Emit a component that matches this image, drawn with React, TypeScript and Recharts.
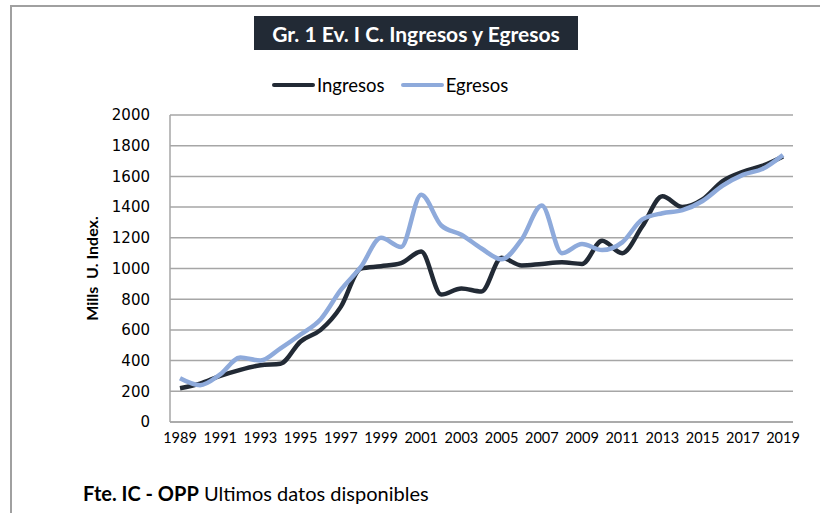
import { CartesianGrid, Line, LineChart, XAxis, YAxis } from "recharts";

const years = [
  "1989", "1990", "1991", "1992", "1993", "1994", "1995", "1996", "1997", "1998",
  "1999", "2000", "2001", "2002", "2003", "2004", "2005", "2006", "2007", "2008",
  "2009", "2010", "2011", "2012", "2013", "2014", "2015", "2016", "2017", "2018",
  "2019",
];

const ingresos = [
  220, 250, 300, 340, 370, 380, 525, 600, 750, 1000,
  1015, 1035, 1110, 830, 870, 850, 1070, 1020, 1030, 1040,
  1030, 1180, 1100, 1275, 1470, 1400, 1450, 1570, 1630, 1670,
  1730,
];

const egresos = [
  285, 240, 310, 420, 400, 480, 570, 670, 860, 1010,
  1200, 1140, 1480, 1280, 1220, 1130, 1060, 1190, 1410, 1100,
  1160, 1120, 1170, 1320, 1360, 1380, 1440, 1540, 1610, 1650,
  1740,
];

const yTicks = [0, 200, 400, 600, 800, 1000, 1200, 1400, 1600, 1800, 2000];

const DARK = "#222a35";
const LIGHT = "#8eaadb";
const GRID = "#a6a6a6";
const FONT = "Lato, 'Open Sans', sans-serif";

const data = years.map((year, i) => ({
  year,
  ingresos: ingresos[i],
  egresos: egresos[i],
}));

function LegendBox() {
  const item = (label: string, color: string, gap: number) => (
    <span style={{ display: "inline-flex", alignItems: "center", marginRight: gap }}>
      <span
        style={{
          display: "inline-block",
          width: 43,
          height: 4,
          borderRadius: 2,
          background: color,
          marginRight: 2,
        }}
      />
      <span style={{ fontSize: 18.5, color: "#000" }}>{label}</span>
    </span>
  );
  return (
    <div
      style={{
        position: "absolute",
        left: 272,
        top: 74,
        fontFamily: FONT,
        display: "flex",
        alignItems: "center",
      }}
    >
      {item("Ingresos", DARK, 16)}
      {item("Egresos", LIGHT, 0)}
    </div>
  );
}

export default function App() {
  return (
    <div
      style={{
        position: "absolute",
        left: 0,
        top: 0,
        width: 820,
        height: 513,
        background: "#fff",
        overflow: "hidden",
      }}
    >
      <div
        style={{
          position: "absolute",
          left: 10,
          top: 5,
          width: 830,
          height: 540,
          borderLeft: "2px solid #a0a0a0",
          borderTop: "2px solid #a0a0a0",
        }}
      />
      <div
        style={{
          position: "absolute",
          left: 254,
          top: 16,
          width: 324,
          height: 34,
          background: DARK,
          color: "#fff",
          fontFamily: FONT,
          fontWeight: 700,
          fontSize: 21,
          display: "flex",
          alignItems: "center",
          justifyContent: "center",
        }}
      >
        Gr. 1 Ev. I C. Ingresos y Egresos
      </div>
      <LegendBox />
      <LineChart
        width={820}
        height={513}
        data={data}
        margin={{ top: 115, right: 27, bottom: 61, left: 110 }}
        style={{ position: "absolute", left: 0, top: 0 }}
      >
        <CartesianGrid stroke={GRID} strokeWidth={1.5} vertical={false} />
        <XAxis
          dataKey="year"
          interval={1}
          padding={{ left: 10, right: 10 }}
          tickLine={false}
          tickSize={0}
          tickMargin={11}
          axisLine={{ stroke: GRID, strokeWidth: 1.5 }}
          tick={{ fill: "#000", fontSize: 14.5, fontFamily: FONT }}
          height={30}
        />
        <YAxis
          domain={[0, 2000]}
          ticks={yTicks}
          interval={0}
          width={60}
          tickLine={false}
          tickSize={0}
          tickMargin={20}
          axisLine={{ stroke: GRID, strokeWidth: 1.5 }}
          tick={{ fill: "#000", fontSize: 15, fontFamily: "'DejaVu Sans', sans-serif" }}
          label={{
            value: "Mills\u00a0\u00a0U. Index.",
            angle: -90,
            position: "insideLeft",
            offset: -18,
            style: {
              fontFamily: FONT,
              fontWeight: 700,
              fontSize: 16,
              fill: "#000",
              textAnchor: "middle",
            },
          }}
        />
        <Line
          type="monotone"
          dataKey="ingresos"
          name="Ingresos"
          stroke={DARK}
          strokeWidth={4.5}
          dot={false}
          isAnimationActive={false}
        />
        <Line
          type="monotone"
          dataKey="egresos"
          name="Egresos"
          stroke={LIGHT}
          strokeWidth={4.5}
          dot={false}
          isAnimationActive={false}
        />
      </LineChart>
      <div
        style={{
          position: "absolute",
          left: 83,
          top: 481,
          fontFamily: FONT,
          fontSize: 20,
          color: "#000",
          whiteSpace: "pre",
        }}
      >
        <b>Fte. IC - OPP</b> Ultimos datos disponibles
      </div>
    </div>
  );
}
